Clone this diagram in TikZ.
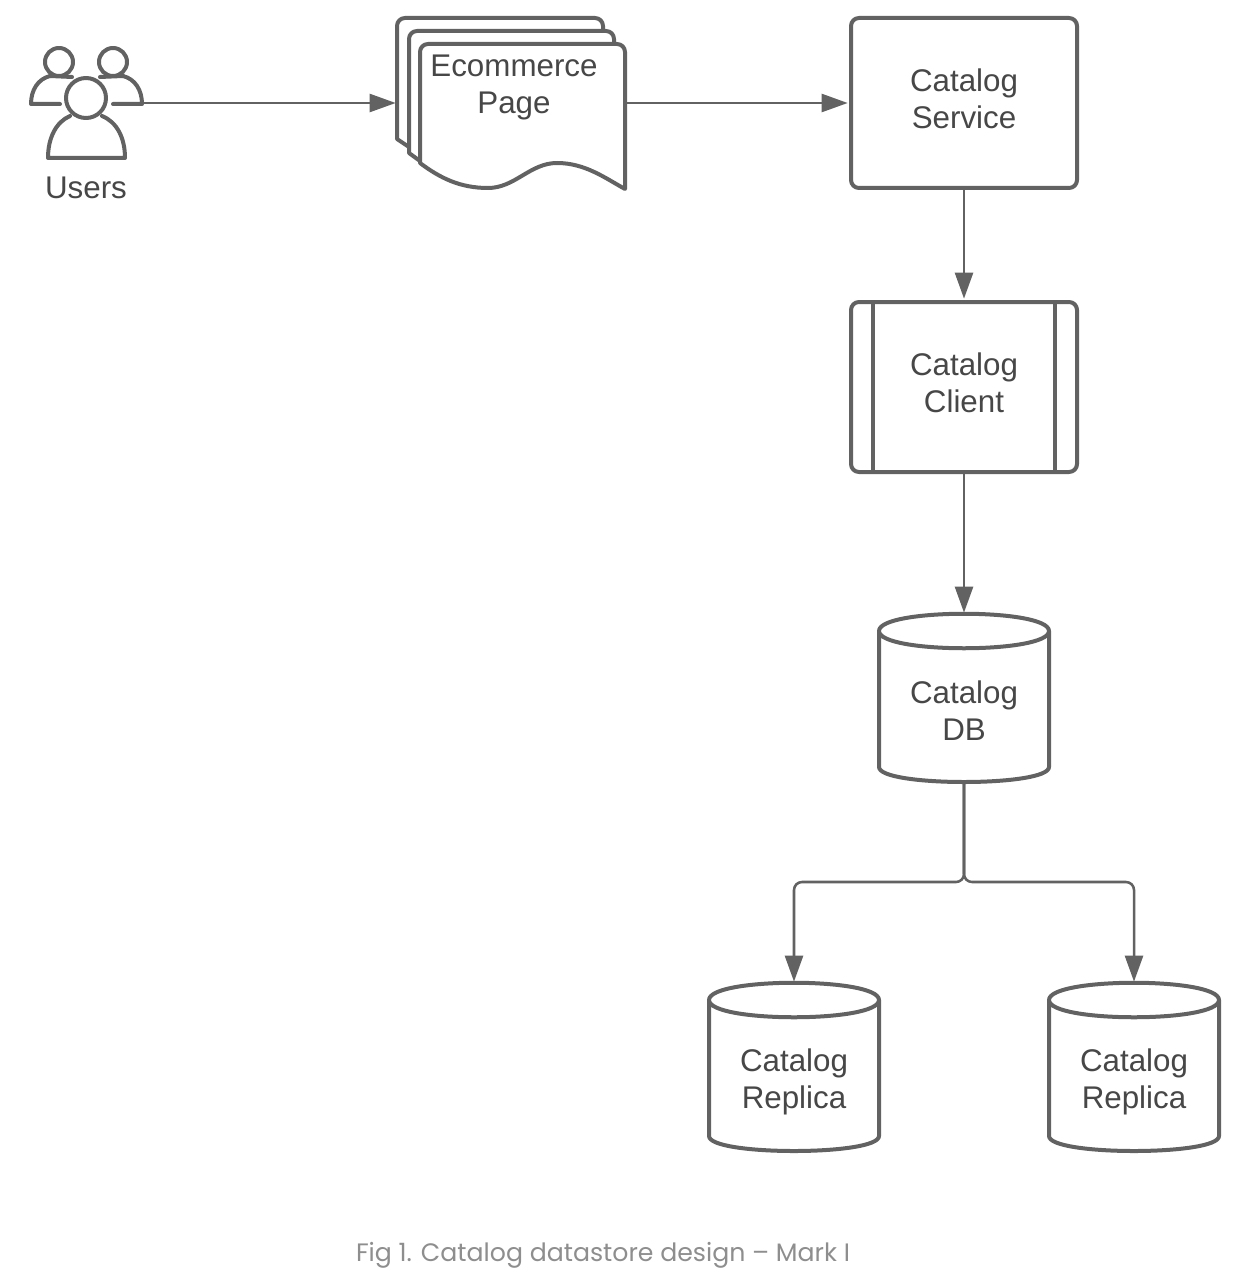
\documentclass[tikz,border=0pt]{standalone}
\usepackage{fontspec}
\setmainfont{Liberation Sans}
\newfontfamily\capfont{Poppins}
\usetikzlibrary{arrows.meta}
\definecolor{ink}{HTML}{626262}
\definecolor{txt}{HTML}{474747}
\definecolor{captxt}{HTML}{8E8E8E}
\tikzset{
  shapeline/.style={draw=ink,line width=3pt,line join=round,fill=white},
  sheetline/.style={draw=ink,line width=3pt,line join=round},
  iconline/.style={draw=ink,line width=3pt,line join=round,line cap=round},
  conn/.style={draw=ink,line width=1.9pt,-{Triangle[length=19.5pt,width=13.5pt,fill=ink]},shorten >=1pt},
  lbl/.style={text=txt,align=center,font=\fontsize{23.5}{27.75}\selectfont,inner sep=0pt},
  box/.style={shapeline,rounded corners=6pt,minimum width=169.5pt,minimum height=127.5pt,inner sep=0pt},
  anchorbox/.style={minimum width=127.5pt,minimum height=126pt,inner sep=0pt,outer sep=0pt},
  capt/.style={text=captxt,font=\capfont\fontsize{18.9}{22}\selectfont,inner sep=0pt}
}
% #1 name, #2 centre x, #3 centre y (pixels), #4 text, #5 text centre y
\newcommand{\cyl}[5]{%
  \node[anchorbox] (#1) at (#2,#3) {};
  \path[shapeline] (#2-85,#3-67) -- (#2-85,#3+69)
    .. controls (#2-85,#3+89) and (#2+85,#3+89) .. (#2+85,#3+69)
    -- (#2+85,#3-67) .. controls (#2+85,#3-90) and (#2-85,#3-90) .. (#2-85,#3-67)
    .. controls (#2-85,#3-44) and (#2+85,#3-44) .. (#2+85,#3-67);
  \node[lbl] (#1text) at (#2,#5) {#4};
}
\begin{document}
\begin{tikzpicture}[x=0.75pt,y=-0.75pt]
\useasboundingbox (0,0) rectangle (1240,1280);
\fill[white] (0,0) rectangle (1240,1280);

% Users icon
\draw[iconline] (59,62) circle (14);
\draw[iconline] (113,62) circle (14);
\draw[iconline] (60,104) -- (31,104) .. controls (31,90) and (38,79) .. (50,76);
\draw[iconline] (50,76) -- (72,77);
\draw[iconline] (113,104) -- (142,104) .. controls (142,90) and (135,79) .. (123,76);
\draw[iconline] (123,76) -- (100,77);
\draw[iconline] (86,98) circle (20);
\draw[iconline] (70,116) .. controls (56,122) and (48,138) .. (48,158) -- (125,158) .. controls (125,138) and (117,122) .. (102,116);
\node[lbl] (users) at (86,188) {Users};
\coordinate (usersout) at (142,103);

% Ecommerce page stack
\node[minimum width=171pt,minimum height=127.5pt,inner sep=0pt,outer sep=0pt] (page) at (511,103) {};
\draw[sheetline] (415,151) -- (397,139) -- (397,26) arc[start angle=180,end angle=270,radius=8] -- (595,18) arc[start angle=270,end angle=360,radius=8] -- (603,40);
\path[shapeline] (420,161) -- (409,153) -- (409,39) arc[start angle=180,end angle=270,radius=8] -- (606,31) arc[start angle=270,end angle=360,radius=8] -- (614,50) -- (420,60) -- cycle;
\path[shapeline] (420,163) -- (420,52) arc[start angle=180,end angle=270,radius=8] -- (617,44) arc[start angle=270,end angle=360,radius=8] -- (625,189)
  .. controls (605,178) and (585,163) .. (557,163)
  .. controls (530,163) and (515,188) .. (488,188)
  .. controls (460,188) and (440,178) .. (420,163) -- cycle;
\node[lbl] (pagetext) at (514,87) {Ecommerce\\Page};

% Catalog Service
\node[box] (service) at (964,103) {};
\node[lbl] (servicetext) at (964,99) {Catalog\\Service};

% Catalog Client
\node[box] (client) at (964,387) {};
\draw[draw=ink,line width=3pt] (873,302) -- (873,472);
\draw[draw=ink,line width=3pt] (1055,302) -- (1055,472);
\node[lbl] (clienttext) at (964,383) {Catalog\\Client};

% Cylinders
\cyl{db}{964}{698}{Catalog\\DB}{711}
\cyl{repa}{794}{1067}{Catalog\\Replica}{1082}
\cyl{repb}{1134}{1067}{Catalog\\Replica}{1082}

% Connectors
\draw[conn] (usersout) -- (page.west);
\draw[conn] (625,103) -- (service.west);
\draw[conn] (service.south) -- (client.north);
\draw[conn] (client.south) -- (db.north);
\draw[conn,rounded corners=6pt] (db.south) -- ++(0,100) -| (repa.north);
\draw[conn,rounded corners=6pt] (db.south) -- ++(0,100) -| (repb.north);

\node[capt] (caption) at (603,1255) {Fig 1. Catalog datastore design – Mark I};
\end{tikzpicture}
\end{document}
